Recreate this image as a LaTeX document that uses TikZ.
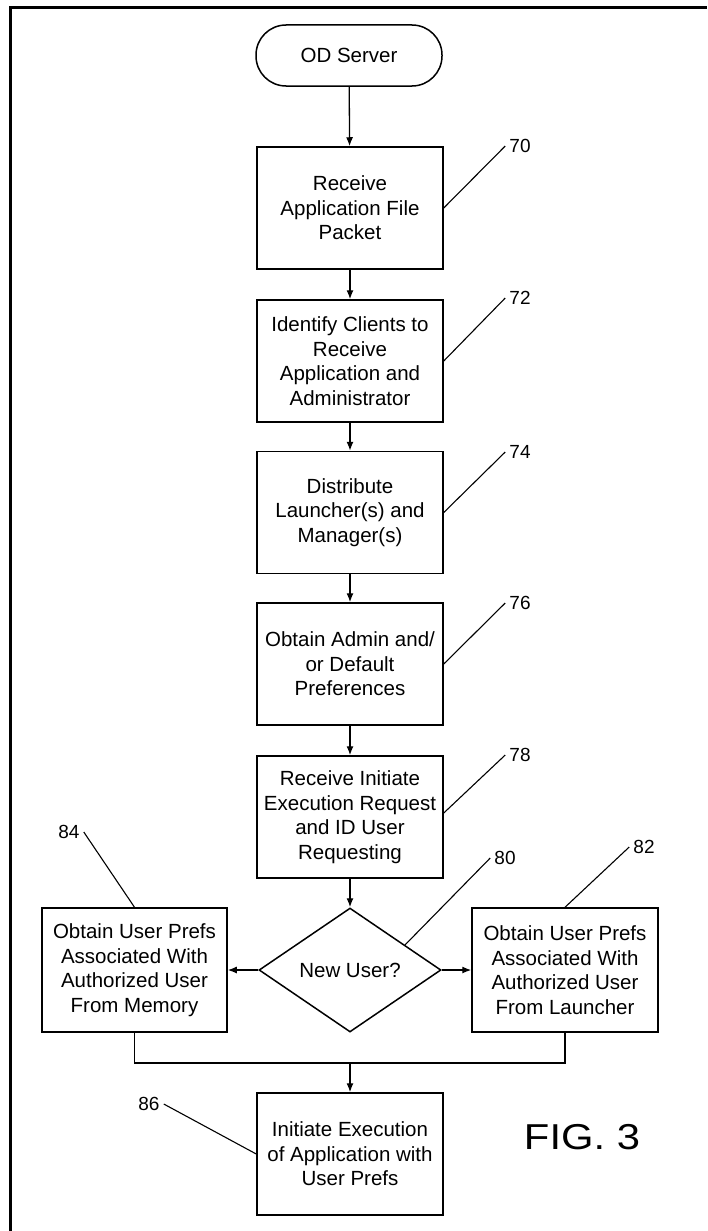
\documentclass[tikz,border=0pt]{standalone}
\usepackage{fontspec}
\usepackage{graphicx}
\setmainfont{Liberation Sans}
\usetikzlibrary{shapes.geometric,arrows.meta,calc}
\begin{document}
\begin{tikzpicture}[x=1pt,y=-1pt,
  txt/.style={font=\fontsize{20.5}{24.5}\selectfont, align=center},
  stepbox/.style={txt, draw, line width=1.5pt, line join=miter, minimum width=186pt, minimum height=122pt, inner sep=2pt},
  termbox/.style={txt, draw, line width=1.5pt, rounded corners=30pt, minimum width=186pt, minimum height=61pt},
  decbox/.style={txt, draw, diamond, line width=1.5pt, minimum width=182pt, minimum height=124pt, inner sep=1pt},
  ref/.style={font=\fontsize{19}{21}\selectfont, inner sep=4pt},
  arr/.style={line width=1.3pt, -{Latex[length=9pt,width=7pt]}},
  lead/.style={line width=1.1pt},
  flow/.style={line width=1.3pt}]
\useasboundingbox (0,0) rectangle (707,1231);
% frame
\draw[line width=2.5pt] (10.5,1231) -- (10.5,7.5) -- (707,7.5);
% nodes
\node[termbox] (t) at (349,55.5) {OD Server};
\node[stepbox] (b70) at (350,208) {Receive\\Application File\\Packet};
\node[stepbox] (b72) at (350,361) {Identify Clients to\\Receive\\Application and\\Administrator};
\node[stepbox] (b74) at (350,512.5) {Distribute\\Launcher(s) and\\Manager(s)};
\node[stepbox] (b76) at (350,664) {Obtain Admin and/\\or Default\\Preferences};
\node[stepbox] (b78) at (350,817) {Receive Initiate\\Execution Request\\and ID User\\Requesting};
\node[decbox] (d80) at (350,970) {New User?};
\node[stepbox, minimum width=185pt, minimum height=124pt] (b84) at (134.5,970) {Obtain User Prefs\\Associated With\\Authorized User\\From Memory};
\node[stepbox, minimum height=124pt] (b82) at (565,970) {Obtain User Prefs\\Associated With\\Authorized User\\From Launcher};
\node[stepbox] (b86) at (350,1154) {Initiate Execution\\of Application with\\User Prefs};
\coordinate (m) at (350,1063);
% reference labels
\node[ref] (l70) at (520,146) {70};
\node[ref] (l72) at (520,298) {72};
\node[ref] (l74) at (520,452) {74};
\node[ref] (l76) at (520,603) {76};
\node[ref] (l78) at (520,755) {78};
\node[ref] (l80) at (505,858) {80};
\node[ref] (l82) at (644,847) {82};
\node[ref] (l84) at (69,832) {84};
\node[ref] (l86) at (149,1104) {86};
\node[font=\fontsize{36}{40}\selectfont, inner sep=0pt] (fig) at (582,1137) {\scalebox{1.16}[1]{FIG. 3}};
% connectors
\draw[arr] (t) -- (b70);
\draw[arr] (b70) -- (b72);
\draw[arr] (b72) -- (b74);
\draw[arr] (b74) -- (b76);
\draw[arr] (b76) -- (b78);
\draw[arr] (b78) -- (d80);
\draw[arr] (d80.west) -- (b84.east);
\draw[arr] (d80.east) -- (b82.west);
\draw[flow] (b84.south) |- (m) -| (b82.south);
\draw[arr] (m) -- (b86.north);
% leader lines
\draw[lead] (l70.west) -- (b70.east);
\draw[lead] (l72.west) -- (b72.east);
\draw[lead] (l74.west) -- (b74.east);
\draw[lead] (l76.west) -- (b76.east);
\draw[lead] (l78.west) -- ([yshift=4pt]b78.east);
\draw[lead] (l80.west) -- ($(d80.north)!0.6!(d80.east)$);
\draw[lead] (l82.west) -- (b82.north);
\draw[lead] (l84.east) -- (b84.north);
\draw[lead] (l86.east) -- (b86.west);
\end{tikzpicture}
\end{document}
